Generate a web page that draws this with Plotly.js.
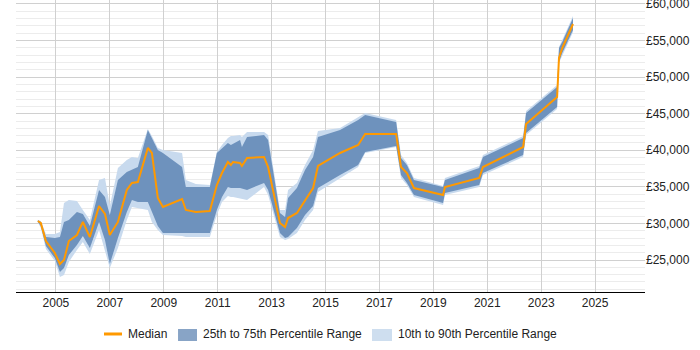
<!DOCTYPE html>
<html>
<head>
<meta charset="utf-8">
<script src="https://cdn.plot.ly/plotly-3.0.1.min.js"></script>
<style>html,body{margin:0;padding:0;background:#fff;}#chart{width:700px;height:350px;}</style>
</head>
<body>
<div id="chart"></div>
<script>
var years = [2004.33, 2004.44, 2004.63, 2004.96, 2005.15, 2005.30, 2005.48, 2005.78, 2006.00, 2006.26,
  2006.60, 2006.82, 2007.00, 2007.30, 2007.63, 2007.82, 2008.04, 2008.41, 2008.56, 2008.78,
  2008.97, 2009.68, 2009.82, 2010.19, 2010.71, 2010.97, 2011.16, 2011.38, 2011.49, 2011.57,
  2011.83, 2011.90, 2012.09, 2012.72, 2012.87, 2013.31, 2013.50, 2013.61, 2013.94, 2014.24,
  2014.54, 2014.72, 2015.54, 2016.21, 2016.47, 2017.62, 2017.80, 2018.02, 2018.28, 2019.36,
  2019.43, 2020.70, 2020.84, 2022.33, 2022.44, 2023.59, 2023.66, 2023.78, 2024.18];

var p90 = [30500, 30330, 28550, 28550, 28830, 32790, 33200, 33070, 31840, 30470,
  35940, 36210, 32380, 37580, 38670, 39080, 38940, 42910, 41950, 40310,
  40040, 39630, 35940, 35390, 35250, 39760, 40720, 41680, 41950, 41950,
  42090, 41810, 42500, 42500, 42090, 31840, 31840, 34570, 35530, 37990,
  40040, 42630, 43040, 44550, 45100, 44140, 39350, 38260, 36210, 35120,
  36210, 37850, 39350, 41950, 45370, 48920, 54120, 55070, 58360];

var p75 = [30450, 30200, 28140, 28010, 28140, 30200, 30470, 31560, 31290, 29650,
  34570, 33610, 31150, 35940, 37030, 37300, 37710, 42770, 41680, 40040,
  39630, 37710, 34980, 34980, 34980, 39630, 40310, 40990, 40720, 40860,
  41400, 40450, 41810, 42090, 41400, 31430, 30880, 33480, 34840, 37300,
  39080, 41810, 42770, 44140, 44820, 43870, 38940, 37990, 35940, 34980,
  35940, 37580, 39080, 41680, 45100, 48650, 53980, 54800, 58080];

var median = [30330, 30060, 27600, 25960, 24450, 25000, 27600, 28420, 30200, 28140,
  32380, 31290, 28420, 30200, 34570, 35530, 35660, 40310, 39630, 33480,
  32250, 33340, 31840, 31560, 31700, 35250, 36890, 38400, 37990, 38400,
  38260, 37850, 38940, 39080, 37710, 30060, 29510, 30740, 31430, 33200,
  34840, 37850, 39630, 40720, 42220, 42220, 37710, 36890, 34840, 33890,
  34980, 36210, 37710, 40450, 43590, 47280, 52610, 53980, 57260];

var p25 = [30200, 29650, 26910, 25270, 23360, 23910, 25680, 27050, 28280, 26640,
  30200, 27730, 24450, 28010, 31560, 33200, 32930, 32930, 31560, 29650,
  28690, 28690, 28690, 28690, 28690, 31840, 33610, 34980, 34840, 34840,
  34840, 34710, 34570, 35530, 34570, 28690, 28010, 28140, 29370, 31150,
  32380, 34840, 36620, 37990, 39760, 40580, 36620, 35530, 33890, 32790,
  34160, 35250, 36890, 39350, 42360, 45920, 52070, 53300, 56440];

var p10 = [30150, 29370, 26500, 24860, 22680, 22950, 24730, 26370, 27460, 25820,
  29100, 26370, 23910, 26640, 30470, 32250, 32110, 31840, 30200, 29100,
  28420, 28280, 28140, 28140, 28140, 31150, 32930, 33750, 33610, 33610,
  33480, 33340, 33200, 34980, 33890, 28140, 27730, 27870, 28690, 30470,
  31840, 34300, 36210, 37710, 39630, 40450, 36210, 35250, 33610, 32520,
  33890, 34980, 36620, 39080, 42090, 45640, 51930, 53020, 56170];

var seriesNames = ['Median', '25th to 75th Percentile Range', '10th to 90th Percentile Range'];

var colMedian = '#ff9900';
var colDark = 'rgb(110,146,189)';
var colLight = 'rgb(200,218,238)';
var colDarkKey = 'rgb(136,164,198)';
var colLightKey = 'rgb(206,222,239)';

function rev(a) { return a.slice().reverse(); }

var traces = [
  {
    x: years.concat(rev(years)),
    y: p90.concat(rev(p10)),
    type: 'scatter', mode: 'lines', fill: 'toself',
    fillcolor: colLight, line: {width: 0, color: colLight},
    name: seriesNames[2], hoverinfo: 'skip', showlegend: false
  },
  {
    x: years.concat(rev(years)),
    y: p75.concat(rev(p25)),
    type: 'scatter', mode: 'lines', fill: 'toself',
    fillcolor: colDark, line: {width: 0, color: colDark},
    name: seriesNames[1], hoverinfo: 'skip', showlegend: false
  },
  {
    x: years, y: median,
    type: 'scatter', mode: 'lines',
    line: {color: colMedian, width: 2},
    name: seriesNames[0], showlegend: false
  }
];

// custom legend (key marks + real text)
var legendShapes = [
  {type: 'line', xref: 'paper', yref: 'paper', x0: 0.1399, x1: 0.1685, y0: -0.1438, y1: -0.1438,
   line: {color: colMedian, width: 3}},
  {type: 'rect', xref: 'paper', yref: 'paper', x0: 0.2576, x1: 0.2878, y0: -0.1678, y1: -0.1267,
   fillcolor: colDarkKey, line: {width: 0}},
  {type: 'rect', xref: 'paper', yref: 'paper', x0: 0.5660, x1: 0.5978, y0: -0.1678, y1: -0.1267,
   fillcolor: colLightKey, line: {width: 0}}
];
var legendX = [0.1750, 0.2942, 0.6042];
var legendAnnotations = seriesNames.map(function (n, i) {
  return {text: n, xref: 'paper', yref: 'paper', x: legendX[i], y: -0.1438,
          xanchor: 'left', yanchor: 'middle', showarrow: false,
          font: {size: 12, color: '#222'}};
});

var layout = {
  width: 700, height: 350,
  margin: {l: 16, r: 55, t: 0, b: 58},
  paper_bgcolor: '#fff', plot_bgcolor: '#fff',
  font: {family: 'Liberation Sans, Arial, sans-serif', size: 12, color: '#222'},
  showlegend: false,
  shapes: legendShapes,
  annotations: legendAnnotations,
  xaxis: {
    range: [2003.52, 2026.85], tick0: 2005, dtick: 2,
    showgrid: true, gridcolor: '#d0d0d0', gridwidth: 1,
    showline: true, linecolor: '#000', linewidth: 1,
    zeroline: false, ticks: '', tickfont: {size: 12}
  },
  yaxis: {
    side: 'right', range: [20626, 60542], tick0: 0, dtick: 5000,
    tickprefix: '£', tickformat: ',d', ticklabeloverflow: 'allow',
    showgrid: true, gridcolor: '#d0d0d0', gridwidth: 1,
    minor: {dtick: 1000, showgrid: true, gridcolor: '#ececec', gridwidth: 1},
    showline: false, zeroline: false, ticks: '', tickfont: {size: 12}
  }
};

Plotly.newPlot('chart', traces, layout, {displayModeBar: false, staticPlot: true});
</script>
</body>
</html>
